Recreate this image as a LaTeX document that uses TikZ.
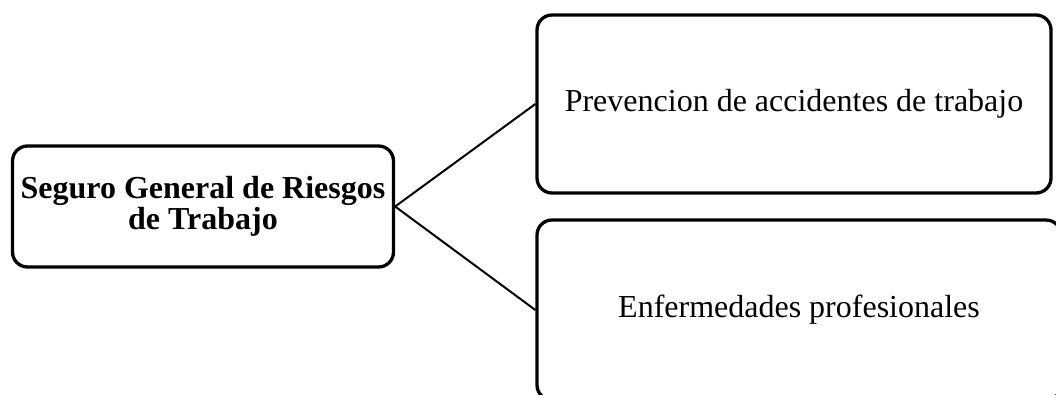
\documentclass[tikz,border=0pt]{standalone}
\usepackage{fontspec}
\setmainfont{Liberation Serif}
\begin{document}
\begin{tikzpicture}[x=1pt,y=-1pt,
  box/.style={draw=black,line width=3.3pt,rounded corners=15pt,fill=white,inner sep=0pt,align=center,font=\fontsize{32}{31.5}\selectfont},
  link/.style={draw=black,line width=2pt}]
\useasboundingbox (0,0) rectangle (1056,394);
\clip (0,0) rectangle (1056,394);
\fill[white] (0,0) rectangle (1056,394);
\node[box,minimum width=381pt,minimum height=121pt] (main) at (203,206.5) {\textbf{Seguro General de Riesgos}\\\textbf{de Trabajo}};
\node[box,minimum width=514pt,minimum height=178pt] (prev) at (794,104) {Prevencion de accidentes de trabajo};
\node[box,minimum width=524pt,minimum height=180pt] (enf) at (799,310) {Enfermedades profesionales};
\draw[link] (main.east) -- (prev.west);
\draw[link] (main.east) -- (enf.west);
\end{tikzpicture}
\end{document}
